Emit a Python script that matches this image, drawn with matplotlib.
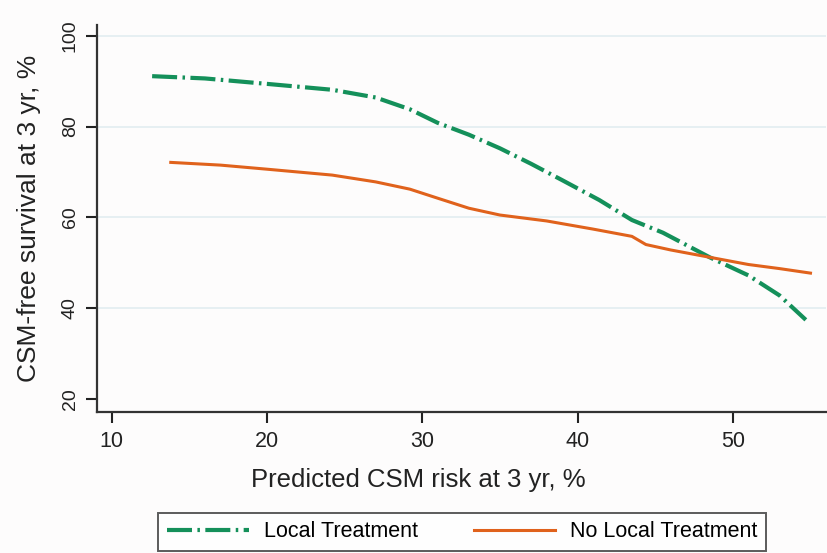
import matplotlib
matplotlib.use("Agg")
import matplotlib.pyplot as plt

plt.rcParams['font.family'] = ['Liberation Sans', 'DejaVu Sans']

# Local Treatment (green dash-dot)
lt_x = [12.6, 16, 20, 24.2, 27, 29.2, 31, 33, 35, 37, 39, 41.4, 43.5, 45.5, 48.5, 51.0, 53, 54.7]
lt_y = [91.1, 90.6, 89.4, 88.1, 86.4, 83.8, 80.8, 78.2, 75.2, 71.8, 68.2, 63.8, 59.4, 56.6, 51.2, 47.2, 42.8, 37.4]

# No Local Treatment (orange solid)
nlt_x = [13.8, 17, 20, 24.2, 27, 29.2, 31, 33, 35, 38, 41, 43.5, 44.4, 46, 48.5, 51, 53, 55.0]
nlt_y = [72.1, 71.5, 70.6, 69.3, 67.8, 66.2, 64.2, 62.0, 60.5, 59.2, 57.4, 55.8, 54.0, 52.8, 51.2, 49.6, 48.7, 47.7]

series_labels = ["Local Treatment", "No Local Treatment"]
x_ticks = [10, 20, 30, 40, 50]
y_ticks = [20, 40, 60, 80, 100]

fig = plt.figure(figsize=(8.27, 5.53), dpi=100)
fig.patch.set_facecolor('#fdfcfc')
ax = fig.add_axes([0.1173, 0.255, 0.8815, 0.70])
ax.set_facecolor('#fdfcfc')

for y in [40, 60, 80, 100]:
    ax.axhline(y, color='#e2edf0', lw=1.2, zorder=0)

ax.plot(lt_x, lt_y, color='#14905a', lw=3.0, dashes=(6, 1.3, 0.6, 1.3),
        label=series_labels[0], dash_capstyle='butt')
ax.plot(nlt_x, nlt_y, color='#e0621c', lw=2.2, label=series_labels[1])

ax.set_xlim(9.05, 56.0)
ax.set_ylim(17.1, 102.4)
ax.set_xticks(x_ticks)
ax.set_yticks(y_ticks)
ax.set_yticklabels([str(v) for v in y_ticks], rotation=90, va='center')
ax.tick_params(axis='both', direction='out', length=8, width=1.5, colors='#222222')
ax.tick_params(axis='x', pad=6, labelsize=15.5)
ax.tick_params(axis='y', pad=5, labelsize=14)

for s in ['top', 'right']:
    ax.spines[s].set_visible(False)
for s in ['left', 'bottom']:
    ax.spines[s].set_linewidth(1.6)
    ax.spines[s].set_color('#333333')

ax.set_ylabel("CSM-free survival at 3 yr, %", fontsize=19, labelpad=15, color='#222222')
fig.text(0.506, 1 - 480 / 553, "Predicted CSM risk at 3 yr, %", fontsize=18.5,
         color='#222222', ha='center', va='center')

leg = fig.legend(loc='center', bbox_to_anchor=(0.559, 0.038), ncol=2, fontsize=15.5,
                 frameon=True, fancybox=False, edgecolor='#333333', handlelength=3.8,
                 columnspacing=2.6, handletextpad=0.7, borderpad=0.4)
leg.get_frame().set_linewidth(1.4)

fig.savefig("out.png", dpi=100, facecolor=fig.get_facecolor())
